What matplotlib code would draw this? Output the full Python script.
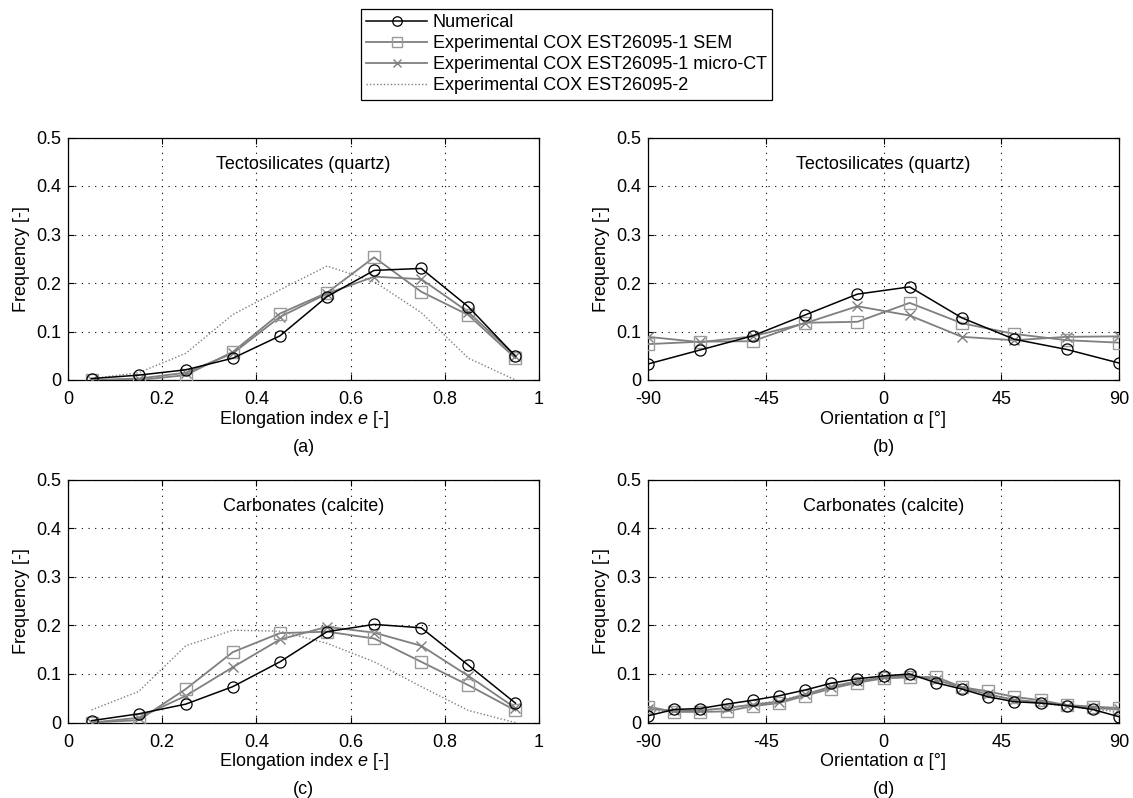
import numpy as np
import matplotlib
matplotlib.use('Agg')
import matplotlib.pyplot as plt

plt.rcParams['font.family'] = ['Liberation Sans', 'DejaVu Sans']
plt.rcParams['mathtext.fontset'] = 'custom'
plt.rcParams['mathtext.rm'] = 'Liberation Sans'
plt.rcParams['mathtext.it'] = 'Liberation Sans:italic'
plt.rcParams['font.size'] = 13

# elongation index bins (a, c)
e_bins = [0.05, 0.15, 0.25, 0.35, 0.45, 0.55, 0.65, 0.75, 0.85, 0.95]
# orientation bins
alpha_b = [-90, -70, -50, -30, -10, 10, 30, 50, 70, 90]
alpha_d = [-90, -80, -70, -60, -50, -40, -30, -20, -10, 0, 10, 20, 30, 40, 50, 60, 70, 80, 90]

# (a) tectosilicates, elongation
num_a = [0.003, 0.010, 0.021, 0.045, 0.091, 0.172, 0.226, 0.230, 0.151, 0.049]
sem_a = [0.0, 0.0, 0.010, 0.058, 0.137, 0.180, 0.253, 0.182, 0.134, 0.045]
mct_a = [0.0, 0.003, 0.015, 0.055, 0.130, 0.178, 0.213, 0.208, 0.140, 0.050]
est2_a = [0.003, 0.015, 0.055, 0.135, 0.186, 0.235, 0.203, 0.139, 0.045, 0.0]

# (b) tectosilicates, orientation
num_b = [0.033, 0.062, 0.091, 0.134, 0.177, 0.192, 0.128, 0.084, 0.063, 0.035]
sem_b = [0.074, 0.079, 0.080, 0.118, 0.120, 0.159, 0.117, 0.095, 0.082, 0.077]
mct_b = [0.089, 0.078, 0.090, 0.117, 0.152, 0.133, 0.089, 0.082, 0.089, 0.090]

# (c) carbonates, elongation
num_c = [0.004, 0.018, 0.038, 0.074, 0.125, 0.187, 0.202, 0.195, 0.118, 0.040]
sem_c = [0.0, 0.005, 0.069, 0.145, 0.184, 0.187, 0.173, 0.125, 0.077, 0.025]
mct_c = [0.0, 0.010, 0.055, 0.114, 0.171, 0.197, 0.185, 0.158, 0.096, 0.030]
est2_c = [0.026, 0.064, 0.158, 0.190, 0.188, 0.163, 0.125, 0.074, 0.025, 0.0]

# (d) carbonates, orientation
num_d = [0.014, 0.027, 0.029, 0.038, 0.046, 0.055, 0.067, 0.081, 0.090, 0.096,
         0.100, 0.082, 0.069, 0.053, 0.043, 0.040, 0.035, 0.027, 0.012]
sem_d = [0.033, 0.022, 0.022, 0.023, 0.034, 0.040, 0.055, 0.070, 0.082, 0.091,
         0.093, 0.094, 0.073, 0.064, 0.053, 0.046, 0.036, 0.033, 0.030]
mct_d = [0.028, 0.025, 0.025, 0.030, 0.037, 0.043, 0.058, 0.074, 0.085, 0.093,
         0.097, 0.088, 0.072, 0.058, 0.047, 0.042, 0.035, 0.030, 0.027]
est2_d = [0.025, 0.022, 0.024, 0.030, 0.037, 0.045, 0.058, 0.073, 0.085, 0.094,
          0.098, 0.090, 0.073, 0.058, 0.046, 0.040, 0.033, 0.028, 0.022]

labels = ['Numerical', 'Experimental COX EST26095-1 SEM',
          'Experimental COX EST26095-1 micro-CT', 'Experimental COX EST26095-2']
titles = ['Tectosilicates (quartz)', 'Tectosilicates (quartz)',
          'Carbonates (calcite)', 'Carbonates (calcite)']

gray = '#7f7f7f'
light = '#9a9a9a'

W, H = 1133, 798
fig = plt.figure(figsize=(W / 100, H / 100), dpi=100)

# axes rectangles in pixels: left, top, right, bottom
boxes = [(68, 137.5, 539, 380), (648, 137.5, 1119, 380),
         (68, 479.5, 539, 722.6), (648, 479.5, 1119, 722.6)]
axs = []
for (l, t, r, b) in boxes:
    axs.append(fig.add_axes([l / W, 1 - b / H, (r - l) / W, (b - t) / H]))

panels = [
    (e_bins, num_a, sem_a, mct_a, est2_a),
    (alpha_b, num_b, sem_b, mct_b, None),
    (e_bins, num_c, sem_c, mct_c, est2_c),
    (alpha_d, num_d, sem_d, mct_d, est2_d),
]

for i, (ax, (x, num, sem, mct, est2)) in enumerate(zip(axs, panels)):
    if est2 is not None:
        ax.plot(x, est2, color=gray, lw=1.0, ls=(0, (1, 1.5)), label=labels[3], zorder=3)
    ax.plot(x, mct, color=gray, lw=1.3, marker='x', ms=7, mew=1.0, label=labels[2], zorder=4)
    ax.plot(x, sem, color=gray, lw=1.3, marker='s', ms=8, mfc='none', mec=light,
            mew=1.0, label=labels[1], zorder=4)
    ax.plot(x, num, color='black', lw=1.1, marker='o', ms=8, mfc='none', mec='black',
            mew=0.9, label=labels[0], zorder=5)

    ax.set_ylim(0, 0.5)
    ax.set_yticks([0, 0.1, 0.2, 0.3, 0.4, 0.5])
    ax.set_yticklabels(['0', '0.1', '0.2', '0.3', '0.4', '0.5'])
    if i % 2 == 0:
        ax.set_xlim(0, 1)
        ax.set_xticks([0, 0.2, 0.4, 0.6, 0.8, 1])
        ax.set_xticklabels(['0', '0.2', '0.4', '0.6', '0.8', '1'])
        ax.set_xlabel('Elongation index $e$ [-]')
    else:
        ax.set_xlim(-90, 90)
        ax.set_xticks([-90, -45, 0, 45, 90])
        ax.set_xticklabels(['-90', '-45', '0', '45', '90'])
        ax.set_xlabel('Orientation α [°]')
    ax.set_ylabel('Frequency [-]')

    ax.grid(True, color='black', ls=(0, (1, 5)), lw=0.8)
    ax.set_axisbelow(True)
    ax.tick_params(direction='in', length=4, width=0.8, top=True, right=True)
    ax.tick_params(axis='x', pad=8)
    ax.tick_params(axis='y', pad=5)
    for s in ax.spines.values():
        s.set_linewidth(0.9)

    hpx = boxes[i][3] - boxes[i][1]
    wpx = boxes[i][2] - boxes[i][0]
    ax.xaxis.set_label_coords(0.5, -39 / hpx)
    ax.xaxis.label.set_verticalalignment('center')
    ax.yaxis.set_label_coords(-46 / wpx, 0.5)
    ax.yaxis.label.set_verticalalignment('center')

    ax.text(0.5, 0.89, titles[i], transform=ax.transAxes, ha='center', va='center')
    ax.text(0.5, -67 / hpx, '(%s)' % 'abcd'[i], transform=ax.transAxes,
            ha='center', va='center')

handles, labs = axs[0].get_legend_handles_labels()
order = [3, 2, 1, 0]
leg = fig.legend([handles[k] for k in order], [labs[k] for k in order],
                 loc='upper center', bbox_to_anchor=(0.5, 1 - 9 / H),
                 fancybox=False, edgecolor='black', framealpha=1,
                 handlelength=3.4, handletextpad=0.3, labelspacing=0.22,
                 borderpad=0.3, borderaxespad=0, markerscale=0.85)
leg.get_frame().set_linewidth(0.9)

fig.savefig('out.png', dpi=100)
